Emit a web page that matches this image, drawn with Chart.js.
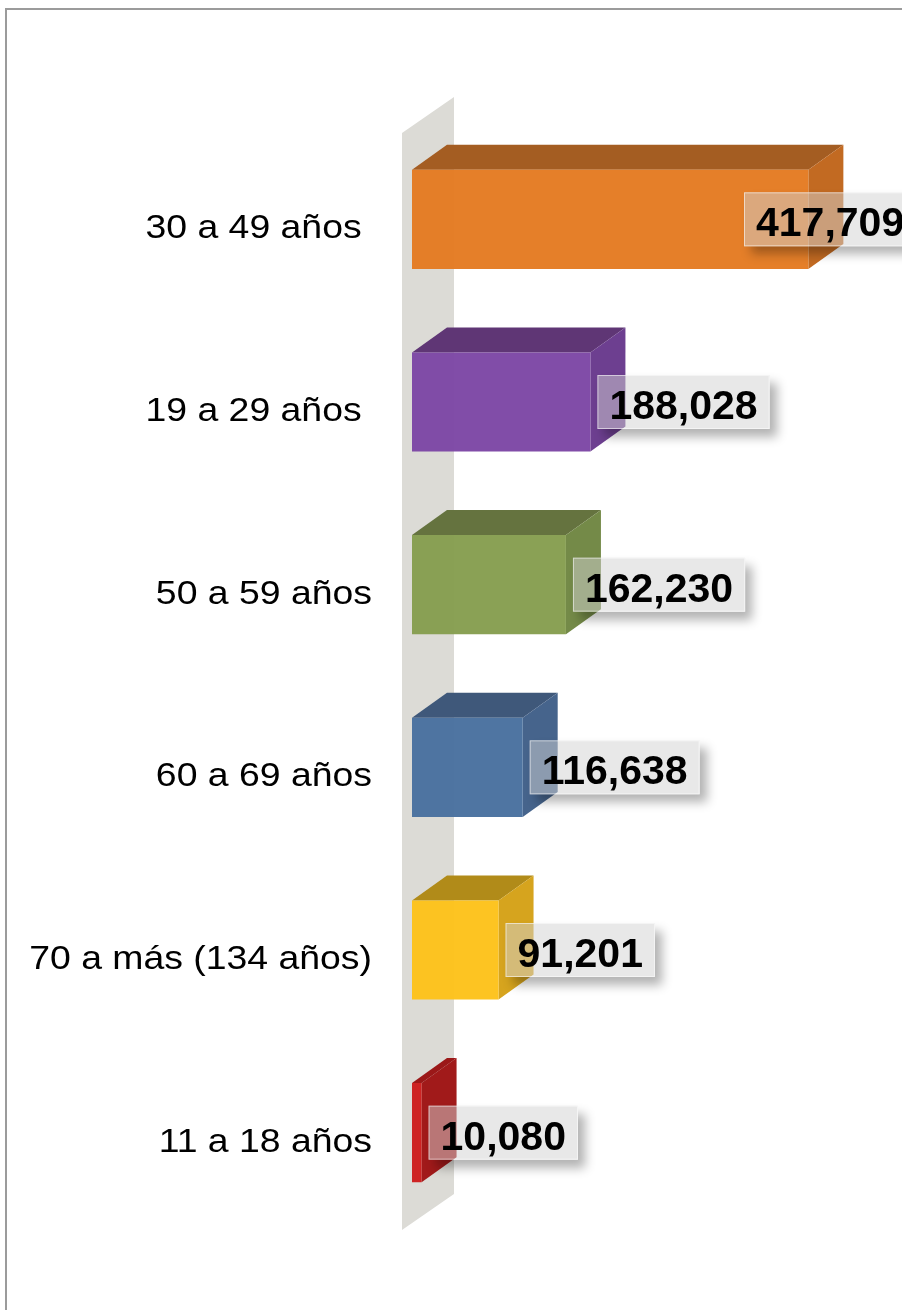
<!DOCTYPE html>
<html>
<head>
<meta charset="utf-8">
<script src="https://cdn.jsdelivr.net/npm/chart.js@4.4.1/dist/chart.umd.min.js"></script>
<style>
    body { margin: 0; background: #fff; overflow: hidden; }
    #wrap { position: relative; width: 902px; height: 1310px; }
    #frame { position: absolute; left: 5px; top: 8px; width: 1000px; height: 1400px;
             border: 2px solid #9b9b9b; pointer-events: none; }
</style>
</head>
<body>
<div id="wrap">
    <canvas id="edadChart" width="902" height="1310"></canvas>
    <div id="frame"></div>
</div>
<script>
// Datos por grupo de edad
const grupos = ['30 a 49 años ', '19 a 29 años ', '50 a 59 años', '60 a 69 años', '70 a más (134 años)', '11 a 18 años'];
const cantidades = [417709, 188028, 162230, 116638, 91201, 10080];

// Colores de cada barra: cara frontal, tapa y lado
const coloresFrente = ['rgba(228,123,34,0.97)', 'rgba(125,71,165,0.97)', 'rgba(134,158,80,0.97)',
                       'rgba(73,113,159,0.97)', 'rgba(253,194,27,0.97)', 'rgba(205,29,29,0.97)'];
const coloresTapa = ['#a45d22', '#5f3675', '#65733f', '#3f587a', '#b18b19', '#9b1818'];
const coloresLado = ['#c26a22', '#6d3f90', '#748a48', '#46648c', '#d6a41e', '#a11a1a'];

const PROF_X = 35, PROF_Y = -25;

// Plugin para el efecto 3D, la pared y las etiquetas
const barras3d = {
    id: 'barras3d',
    beforeDatasetsDraw(chart) {
        const ctx = chart.ctx;
        const area = chart.chartArea;
        const x0 = chart.scales.x.getPixelForValue(0) - 10;

        // Pared del fondo
        ctx.save();
        ctx.fillStyle = '#dcdbd6';
        ctx.beginPath();
        ctx.moveTo(x0, area.top + 5);
        ctx.lineTo(x0 + 52, area.top + 5 - 36);
        ctx.lineTo(x0 + 52, area.bottom + 6 - 36);
        ctx.lineTo(x0, area.bottom + 6);
        ctx.closePath();
        ctx.fill();

        // Tapa y lado de cada barra
        chart.getDatasetMeta(0).data.forEach((bar, i) => {
            const p = bar.getProps(['x', 'y', 'base', 'height'], true);
            const top = p.y - p.height / 2;
            const bottom = p.y + p.height / 2;
            ctx.fillStyle = coloresTapa[i];
            ctx.beginPath();
            ctx.moveTo(p.base, top);
            ctx.lineTo(p.x, top);
            ctx.lineTo(p.x + PROF_X, top + PROF_Y);
            ctx.lineTo(p.base + PROF_X, top + PROF_Y);
            ctx.closePath();
            ctx.fill();
            ctx.fillStyle = coloresLado[i];
            ctx.beginPath();
            ctx.moveTo(p.x, top);
            ctx.lineTo(p.x + PROF_X, top + PROF_Y);
            ctx.lineTo(p.x + PROF_X, bottom + PROF_Y);
            ctx.lineTo(p.x, bottom);
            ctx.closePath();
            ctx.fill();
        });
        ctx.restore();
    },
    afterDatasetsDraw(chart) {
        const ctx = chart.ctx;
        const yScale = chart.scales.y;
        const izquierda = chart.chartArea.left - 40;

        // Nombres de los grupos (un poco ensanchados como en el original)
        ctx.save();
        ctx.font = '32.5px "Liberation Sans", Arial, sans-serif';
        ctx.fillStyle = '#000';
        ctx.textAlign = 'right';
        ctx.textBaseline = 'alphabetic';
        ctx.scale(1.15, 1);
        grupos.forEach((g, i) => {
            ctx.fillText(g, izquierda / 1.15, yScale.getPixelForValue(i) + 19);
        });
        ctx.restore();

        // Cajas con los valores
        chart.getDatasetMeta(0).data.forEach((bar, i) => {
            const p = bar.getProps(['x', 'y'], true);
            const texto = cantidades[i].toLocaleString('en-US');
            ctx.save();
            ctx.font = 'bold 41px "Liberation Sans", Arial, sans-serif';
            const w = ctx.measureText(texto).width + 24;
            const h = 54;
            const bx = Math.min(p.x + 7, chart.width - 158);
            const by = p.y - 27;

            // sombra fuera de la caja
            ctx.save();
            ctx.beginPath();
            ctx.rect(0, 0, chart.width, chart.height);
            ctx.rect(bx, by, w, h);
            ctx.clip('evenodd');
            ctx.shadowColor = 'rgba(0,0,0,0.3)';
            ctx.shadowBlur = 10;
            ctx.shadowOffsetX = 7 + 5000;
            ctx.shadowOffsetY = 8;
            ctx.fillStyle = '#000';
            ctx.fillRect(bx - 5000, by, w, h);
            ctx.restore();

            ctx.fillStyle = 'rgba(210,210,210,0.5)';
            ctx.fillRect(bx, by, w, h);
            ctx.strokeStyle = 'rgba(255,255,255,0.55)';
            ctx.lineWidth = 1;
            ctx.strokeRect(bx + 0.5, by + 0.5, w - 1, h - 1);

            ctx.fillStyle = '#000';
            ctx.textAlign = 'left';
            ctx.textBaseline = 'alphabetic';
            ctx.fillText(texto, bx + 12, p.y + 17);
            ctx.restore();
        });
    }
};

new Chart(document.getElementById('edadChart'), {
    type: 'bar',
    data: {
        labels: grupos,
        datasets: [{
            data: cantidades,
            backgroundColor: coloresFrente,
            borderWidth: 0,
            categoryPercentage: 1,
            barPercentage: 0.5425
        }]
    },
    options: {
        indexAxis: 'y',
        responsive: false,
        animation: false,
        layout: {
            padding: { left: 412, right: 63, top: 128, bottom: 86 }
        },
        scales: {
            x: { display: false, min: 0, max: 450000 },
            y: { display: false }
        },
        plugins: {
            legend: { display: false },
            tooltip: { enabled: false }
        }
    },
    plugins: [barras3d]
});
</script>
</body>
</html>
